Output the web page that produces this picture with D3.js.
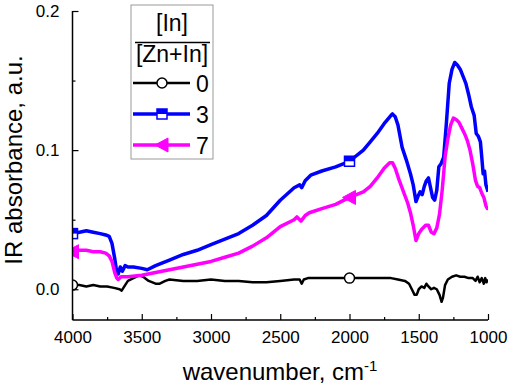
<!DOCTYPE html>
<html>
<head>
<meta charset="utf-8">
<script src="https://cdn.jsdelivr.net/npm/d3@7"></script>
<style>
  body { margin: 0; background: #fff; }
  svg { font-family: Arial, "Liberation Sans", sans-serif; }
</style>
</head>
<body>
<svg id="chart" width="510" height="385"></svg>
<script>
// spectra: [wavenumber, absorbance]
const black0 = [
  [4000,0.003],[3950,0.003],[3900,0.002],[3850,0.003],[3800,0.002],[3750,0.002],[3700,0.001],
  [3660,0.000],[3645,-0.001],[3620,0.003],[3600,0.006],[3560,0.008],[3520,0.010],[3490,0.009],
  [3450,0.006],[3400,0.004],[3370,0.004],[3330,0.006],[3300,0.007],[3200,0.006],[3100,0.006],
  [3000,0.007],[2900,0.006],[2800,0.006],[2700,0.005],[2600,0.005],[2500,0.006],[2400,0.007],
  [2360,0.007],[2345,0.004],[2330,0.007],[2300,0.008],[2200,0.008],[2100,0.008],[2000,0.008],
  [1900,0.008],[1800,0.008],[1700,0.008],[1650,0.007],[1600,0.006],[1570,0.004],[1550,0.000],
  [1530,-0.004],[1515,-0.004],[1500,0.000],[1480,0.002],[1460,0.001],[1445,0.004],[1430,0.002],
  [1410,0.000],[1390,0.001],[1370,0.000],[1350,-0.004],[1335,-0.009],[1325,-0.006],[1310,0.003],
  [1290,0.007],[1260,0.009],[1230,0.010],[1200,0.009],[1170,0.009],[1140,0.008],[1110,0.008],
  [1090,0.006],[1075,0.009],[1060,0.005],[1045,0.008],[1030,0.004],[1020,0.008],[1010,0.005],[1000,0.007]
];
const blue3 = [
  [4000,0.040],[3950,0.041],[3900,0.042],[3850,0.041],[3800,0.040],[3760,0.039],[3735,0.038],
  [3715,0.033],[3695,0.022],[3680,0.012],[3670,0.011],[3655,0.016],[3640,0.013],[3620,0.017],
  [3600,0.016],[3560,0.016],[3500,0.015],[3460,0.014],[3400,0.017],[3300,0.021],[3200,0.025],
  [3100,0.028],[3000,0.032],[2900,0.036],[2800,0.040],[2700,0.046],[2600,0.053],[2500,0.064],
  [2400,0.073],[2360,0.075],[2345,0.073],[2320,0.078],[2280,0.082],[2200,0.085],[2100,0.088],
  [2000,0.092],[1900,0.100],[1850,0.106],[1800,0.112],[1750,0.119],[1700,0.125],[1690,0.126],
  [1670,0.124],[1650,0.118],[1620,0.102],[1590,0.093],[1560,0.083],[1540,0.075],[1520,0.063],
  [1505,0.067],[1490,0.070],[1475,0.068],[1460,0.074],[1445,0.078],[1430,0.080],[1415,0.073],
  [1400,0.066],[1385,0.064],[1370,0.071],[1355,0.088],[1340,0.090],[1320,0.095],[1300,0.120],
  [1280,0.148],[1260,0.158],[1240,0.163],[1220,0.161],[1200,0.158],[1180,0.153],[1160,0.148],
  [1140,0.140],[1120,0.131],[1100,0.125],[1085,0.112],[1070,0.110],[1055,0.106],[1045,0.095],
  [1035,0.083],[1025,0.085],[1015,0.075],[1005,0.072],[1000,0.070]
];
const magenta7 = [
  [4000,0.027],[3950,0.028],[3900,0.028],[3850,0.027],[3800,0.027],[3760,0.026],[3735,0.024],
  [3715,0.020],[3695,0.012],[3680,0.008],[3670,0.007],[3650,0.009],[3600,0.009],[3500,0.010],
  [3400,0.012],[3300,0.014],[3200,0.016],[3100,0.018],[3000,0.020],[2900,0.023],[2800,0.026],
  [2700,0.031],[2600,0.037],[2500,0.045],[2400,0.050],[2380,0.052],[2350,0.049],[2320,0.053],
  [2290,0.055],[2200,0.058],[2100,0.061],[2000,0.066],[1900,0.070],[1850,0.074],[1800,0.080],
  [1750,0.087],[1710,0.091],[1690,0.091],[1670,0.087],[1640,0.078],[1610,0.070],[1580,0.062],
  [1560,0.055],[1540,0.046],[1520,0.035],[1500,0.040],[1480,0.043],[1450,0.046],[1430,0.046],
  [1410,0.041],[1390,0.040],[1370,0.044],[1350,0.054],[1330,0.072],[1310,0.095],[1290,0.108],
  [1270,0.118],[1250,0.123],[1230,0.122],[1210,0.120],[1190,0.116],[1170,0.112],[1150,0.107],
  [1130,0.100],[1110,0.090],[1090,0.078],[1075,0.074],[1060,0.073],[1045,0.069],[1030,0.066],
  [1015,0.060],[1005,0.058],[1000,0.058]
];
const markerWn = [4000, 2000];
const xTicks = [4000, 3500, 3000, 2500, 2000, 1500, 1000];
const yTicks = [0.0, 0.1, 0.2];

const series = [
  { name: "0", data: black0, color: "#000000", width: 2.5, marker: "circle" },
  { name: "3", data: blue3, color: "#0000ff", width: 3.5, marker: "square" },
  { name: "7", data: magenta7, color: "#ff00ff", width: 3.5, marker: "triangle" }
];

const svg = d3.select("#chart");
const plotL = 72.5, plotR = 488, plotT = 11, plotB = 320;

const x = d3.scaleLinear().domain([4000, 1000]).range([plotL, plotR]);
const y = d3.scaleLinear().domain([-0.0221, 0.2]).range([plotB, plotT]);

svg.append("defs").append("clipPath").attr("id", "plotclip")
  .append("rect")
  .attr("x", plotL).attr("y", plotT - 5)
  .attr("width", plotR - plotL).attr("height", plotB - plotT + 5);

// marker drawing helper
function drawMarker(g, type, color, cx, cy) {
  if (type === "circle") {
    g.append("circle").attr("cx", cx).attr("cy", cy).attr("r", 5)
      .attr("fill", "#fff").attr("stroke", color).attr("stroke-width", 1.5);
  } else if (type === "square") {
    g.append("rect").attr("x", cx - 5).attr("y", cy - 5).attr("width", 10).attr("height", 10)
      .attr("fill", "#fff").attr("stroke", color).attr("stroke-width", 1.5);
    g.append("rect").attr("x", cx - 5).attr("y", cy - 5).attr("width", 10).attr("height", 5)
      .attr("fill", color);
  } else {
    g.append("path")
      .attr("d", `M${cx - 7},${cy} L${cx + 6},${cy - 7} L${cx + 6},${cy + 7} Z`)
      .attr("fill", color).attr("stroke", color).attr("stroke-width", 1);
  }
}

const plot = svg.append("g").attr("clip-path", "url(#plotclip)");
const line = d3.line().x(d => x(d[0])).y(d => y(d[1]));

series.forEach(s => {
  plot.append("path")
    .datum(s.data)
    .attr("fill", "none")
    .attr("stroke", s.color)
    .attr("stroke-width", s.width)
    .attr("stroke-linejoin", "round")
    .attr("d", line);
});
series.forEach(s => {
  markerWn.forEach(w => {
    const pt = s.data.find(d => d[0] === w);
    drawMarker(plot, s.marker, s.color, x(pt[0]), y(pt[1]));
  });
});

// Axes (ticks point inward)
const xAxis = svg.append("g").attr("transform", `translate(0,${plotB})`)
  .call(d3.axisBottom(x).tickValues(xTicks).tickSize(-6).tickPadding(11).tickFormat(d3.format("d")));
svg.append("g").attr("transform", `translate(0,${plotB})`)
  .call(d3.axisBottom(x).tickValues(d3.range(3750, 1000, -500)).tickSize(-3).tickFormat(""))
  .select(".domain").remove();

const yAxis = svg.append("g").attr("transform", `translate(${plotL},0)`)
  .call(d3.axisLeft(y).tickValues(yTicks).tickSize(-6).tickPadding(13).tickFormat(d3.format(".1f")));
svg.append("g").attr("transform", `translate(${plotL},0)`)
  .call(d3.axisLeft(y).tickValues([0.05, 0.15]).tickSize(-3).tickFormat(""))
  .select(".domain").remove();

xAxis.select(".domain").attr("d", `M${plotL},0H${plotR}`);
yAxis.select(".domain").attr("d", `M0,${plotB}V${plotT}`);
svg.selectAll(".tick line").attr("stroke", "#000").attr("stroke-width", 1.2);
svg.selectAll(".domain").attr("stroke", "#000").attr("stroke-width", 1.5);
svg.selectAll(".tick text").attr("font-size", 17).attr("fill", "#000")
  .attr("font-family", "Arial, 'Liberation Sans', sans-serif");

// Axis titles
svg.append("text")
  .attr("x", 280).attr("y", 380)
  .attr("text-anchor", "middle")
  .attr("font-size", 24)
  .html('wavenumber, cm<tspan dy="-9" font-size="15">-1</tspan>');

svg.append("text")
  .attr("transform", "translate(22,160) rotate(-90)")
  .attr("text-anchor", "middle")
  .attr("font-size", 24)
  .text("IR absorbance, a.u.");

// Legend
const legend = svg.append("g");
legend.append("rect")
  .attr("x", 131).attr("y", 5).attr("width", 82).attr("height", 154)
  .attr("fill", "#fff").attr("stroke", "#9a9a9a").attr("stroke-width", 1);
legend.append("text").attr("x", 172).attr("y", 31).attr("text-anchor", "middle")
  .attr("font-size", 23).text("[In]");
legend.append("line").attr("x1", 135).attr("x2", 210).attr("y1", 42.5).attr("y2", 42.5)
  .attr("stroke", "#000").attr("stroke-width", 1.5);
legend.append("text").attr("x", 172).attr("y", 62).attr("text-anchor", "middle")
  .attr("font-size", 23).text("[Zn+In]");

series.forEach((s, i) => {
  const ly = 83 + i * 31;
  legend.append("line").attr("x1", 133).attr("x2", 190).attr("y1", ly).attr("y2", ly)
    .attr("stroke", s.color).attr("stroke-width", s.width);
  drawMarker(legend, s.marker, s.color, 162, ly);
  legend.append("text").attr("x", 196).attr("y", ly + 9)
    .attr("font-size", 23).text(s.name);
});
</script>
</body>
</html>
